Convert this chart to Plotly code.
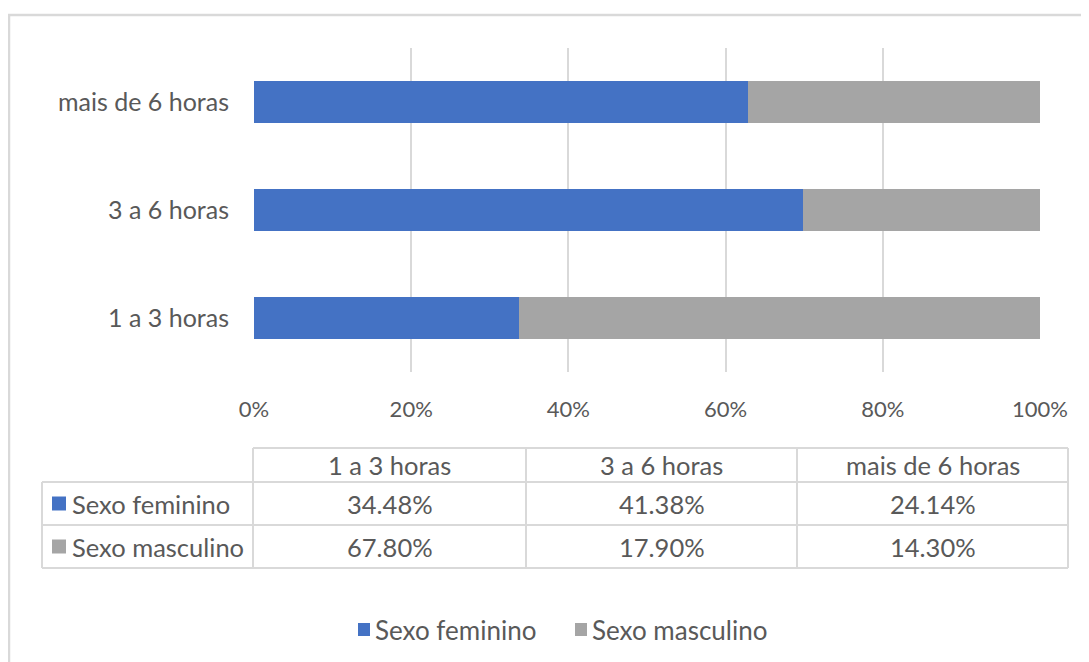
import plotly.graph_objects as go

categories = ["1 a 3 horas", "3 a 6 horas", "mais de 6 horas"]
series_names = ["Sexo feminino", "Sexo masculino"]
feminino = [34.48, 41.38, 24.14]
masculino = [67.80, 17.90, 14.30]
x_ticks = [0, 20, 40, 60, 80, 100]
x_tick_labels = ["0%", "20%", "40%", "60%", "80%", "100%"]

colors = ["#4472C4", "#A5A5A5"]
text_color = "#595959"
grid_color = "#D9D9D9"
font_family = "Lato, Carlito, Calibri, sans-serif"

W, H = 1089, 662
ML, MR, MT, MB = 12, 12, 40, 20
PW, PH = W - ML - MR, H - MT - MB
OFF = 8  # page body margin


def px_x(p):
    return (p - OFF - ML) / PW


def px_y(p):
    return (H - MB - (p - OFF)) / PH


fig = go.Figure()
for name, vals, col in zip(series_names, [feminino, masculino], colors):
    fig.add_trace(go.Bar(
        y=categories, x=vals, name=name, orientation="h",
        marker=dict(color=col, line=dict(width=0)),
        hoverinfo="skip", showlegend=False,
    ))

shapes = []
annotations = []
line_style = dict(color=grid_color, width=2)


def hline(y, x0, x1):
    shapes.append(dict(type="line", xref="paper", yref="paper",
                       x0=px_x(x0), x1=px_x(x1), y0=px_y(y), y1=px_y(y),
                       line=line_style))


def vline(x, y0, y1):
    shapes.append(dict(type="line", xref="paper", yref="paper",
                       x0=px_x(x), x1=px_x(x), y0=px_y(y0), y1=px_y(y1),
                       line=line_style))


# ---- data table (layout in pixels) ----
col_edges = [42, 253, 526, 797, 1068]
row_edges = [448, 482, 525, 568]

hline(row_edges[0], col_edges[1], col_edges[-1])
for y in row_edges[1:]:
    hline(y, col_edges[0], col_edges[-1])
vline(col_edges[0], row_edges[1], row_edges[-1])
for x in col_edges[1:]:
    vline(x, row_edges[0], row_edges[-1])

table_font = dict(family=font_family, size=25.5, color=text_color)
for i, cat in enumerate(categories):
    cx = (col_edges[i + 1] + col_edges[i + 2]) / 2
    cy = (row_edges[0] + row_edges[1]) / 2
    annotations.append(dict(xref="paper", yref="paper", x=px_x(cx), y=px_y(cy),
                            text=cat, showarrow=False, xanchor="center",
                            yanchor="middle", font=table_font))
for r, (name, vals, col) in enumerate(zip(series_names, [feminino, masculino], colors)):
    cy = (row_edges[r + 1] + row_edges[r + 2]) / 2
    shapes.append(dict(type="rect", xref="paper", yref="paper",
                       x0=px_x(52), x1=px_x(66), y0=px_y(cy - 7), y1=px_y(cy + 7),
                       fillcolor=col, line=dict(width=0)))
    annotations.append(dict(xref="paper", yref="paper", x=px_x(70), y=px_y(cy),
                            text=name, showarrow=False, xanchor="left",
                            yanchor="middle", font=table_font))
    for i, v in enumerate(vals):
        cx = (col_edges[i + 1] + col_edges[i + 2]) / 2
        annotations.append(dict(xref="paper", yref="paper", x=px_x(cx), y=px_y(cy),
                                text=f"{v:.2f}%", showarrow=False, xanchor="center",
                                yanchor="middle", font=table_font))

# ---- legend (drawn manually) ----
legend_font = dict(family=font_family, size=26, color=text_color)
legend_x = [358, 575]
legend_y = 629.5
for name, col, lx in zip(series_names, colors, legend_x):
    shapes.append(dict(type="rect", xref="paper", yref="paper",
                       x0=px_x(lx), x1=px_x(lx + 12),
                       y0=px_y(legend_y - 6.5), y1=px_y(legend_y + 6.5),
                       fillcolor=col, line=dict(width=0)))
    annotations.append(dict(xref="paper", yref="paper", x=px_x(lx + 15),
                            y=px_y(legend_y), text=name, showarrow=False,
                            xanchor="left", yanchor="middle", font=legend_font))

# chart border
shapes.append(dict(
    type="rect", xref="paper", yref="paper",
    x0=px_x(9), x1=px_x(1200), y0=px_y(15), y1=px_y(800),
    line=dict(color=grid_color, width=2.5), fillcolor="rgba(0,0,0,0)",
    layer="below",
))

fig.update_layout(
    width=W, height=H,
    margin=dict(l=ML, r=MR, t=MT, b=MB, autoexpand=False),
    paper_bgcolor="white", plot_bgcolor="white",
    barmode="stack", barnorm="percent", bargap=0.61,
    showlegend=False,
    font=dict(family=font_family, size=25, color=text_color),
    xaxis=dict(
        domain=[px_x(254), px_x(1040)],
        range=[0, 100], tickvals=x_ticks, ticktext=x_tick_labels,
        showgrid=True, gridcolor=grid_color, gridwidth=1.5,
        zeroline=False, showline=False, ticks="",
        ticklabelstandoff=22, automargin=False,
        tickfont=dict(size=22, color=text_color),
        fixedrange=True,
    ),
    yaxis=dict(
        domain=[px_y(372), px_y(48)],
        categoryorder="array", categoryarray=categories,
        showgrid=False, zeroline=False, showline=False, ticks="",
        ticklabelstandoff=24, automargin=False,
        tickfont=dict(size=25, color=text_color),
        fixedrange=True,
    ),
    shapes=shapes,
    annotations=annotations,
)

fig.write_html("out.html")
